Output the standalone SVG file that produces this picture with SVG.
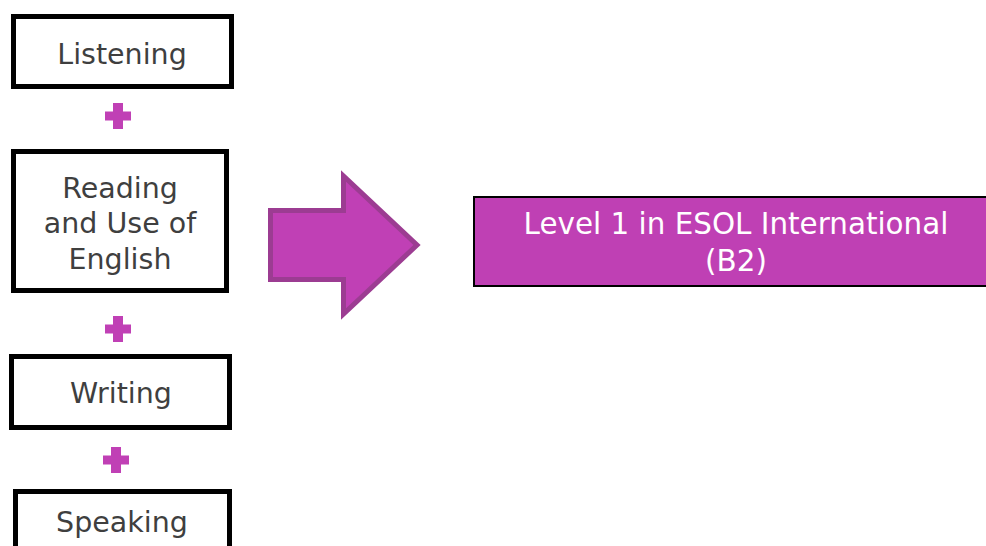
<svg xmlns="http://www.w3.org/2000/svg" width="986" height="546" viewBox="0 0 986 546">
<style>
.box{fill:#fff;stroke:#000;stroke-width:5}
.lbl{font-family:"DejaVu Sans",Verdana,sans-serif;font-size:28.5px;fill:#3f3f3f;text-anchor:middle}
.plus{fill:#c040b5}
.out{font-family:"DejaVu Sans",Verdana,sans-serif;font-size:29.4px;fill:#fff;text-anchor:middle}
</style>
<defs>
<path id="plus" d="M-5,-13H5V-4.5H13V4.5H5V13H-5V4.5H-13V-4.5H-5Z"/>
</defs>
<rect width="986" height="546" fill="#fff"/>
<g id="listening">
<rect class="box" x="13.5" y="16.5" width="218" height="70"/>
<text class="lbl" x="122" y="64">Listening</text>
</g>
<g id="reading">
<rect class="box" x="13.5" y="151.5" width="213" height="139"/>
<text class="lbl" x="120" y="198">Reading</text>
<text class="lbl" x="120" y="233">and Use of</text>
<text class="lbl" x="120" y="269">English</text>
</g>
<g id="writing">
<rect class="box" x="11.5" y="356.5" width="218" height="71"/>
<text class="lbl" x="121" y="403">Writing</text>
</g>
<g id="speaking">
<rect class="box" x="15.5" y="491.5" width="214" height="80"/>
<text class="lbl" x="122" y="532">Speaking</text>
</g>
<g id="plus-signs">
<use href="#plus" class="plus" x="118" y="116"/>
<use href="#plus" class="plus" x="118" y="329"/>
<use href="#plus" class="plus" x="116" y="460"/>
</g>
<g id="connectors">
<polygon points="270.5,210.5 343.5,210.5 343.5,176 417,245 343.5,314 343.5,279.5 270.5,279.5" fill="#c040b5" stroke="#9c3c92" stroke-width="5"/>
</g>
<g id="result">
<rect x="474" y="197" width="520" height="89" fill="#bf40b4" stroke="#000" stroke-width="2"/>
<text class="out" x="736" y="234">Level 1 in ESOL International</text>
<text class="out" x="736" y="271">(B2)</text>
</g>
</svg>
